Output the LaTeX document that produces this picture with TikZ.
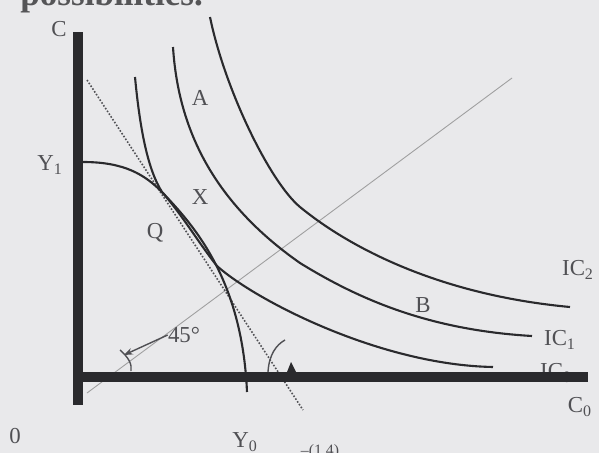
\documentclass[tikz,border=0pt]{standalone}
\usepackage{fontspec}
\setmainfont{Liberation Serif}
\usetikzlibrary{arrows.meta}
\definecolor{paper}{RGB}{233,233,235}
\definecolor{ink}{RGB}{42,42,45}
\definecolor{pencil}{RGB}{80,80,84}
\tikzset{
  axis/.style={line width=6.2pt,color=ink},
  curve/.style={line width=1.2pt,color=ink},
  lbl/.style={text=pencil,font=\fontsize{13}{15}\selectfont,inner sep=0pt},
}
\begin{document}
\begin{tikzpicture}[x=0.02cm,y=-0.02cm]
\fill[paper] (0,0) rectangle (599,453);
\useasboundingbox (0,0) rectangle (599,453);
\clip (0,0) rectangle (599,453);
\node[lbl,text=ink!80,font=\fontsize{20}{24}\selectfont\bfseries,anchor=base west] (head) at (20,6) {possibilities.};

\draw[color=gray!75,line width=0.5pt] (87,393) -- (512,78);
\draw[pencil,densely dotted,line width=0.9pt] (87,80) -- (303,410);

\draw[curve] (83,162) .. controls (125,162) and (145,175) .. (162,192)
  .. controls (190,222) and (242,275) .. (247,392);
\draw[curve] (135,77) .. controls (140,130) and (148,170) .. (162,192)
  .. controls (183,216) and (198,242) .. (217,266)
  .. controls (255,300) and (380,365) .. (493,367);
\draw[curve] (173,47) .. controls (178,125) and (210,200) .. (300,263)
  .. controls (360,300) and (430,330) .. (532,336);
\draw[curve] (210,17) .. controls (225,90) and (270,182) .. (300,207)
  .. controls (350,248) and (440,295) .. (570,307);

\node[lbl] (ic0) at (556,373) {IC\textsubscript{0}};
\draw[axis] (78,32) -- (78,405);
\draw[axis] (73,377) -- (588,377);

\node[lbl] (c) at (59,29) {C};
\node[lbl] (y1) at (50,165) {Y\textsubscript{1}};
\node[lbl] (a) at (200,98) {A};
\node[lbl] (x) at (200,197) {X};
\node[lbl] (q) at (155,233) {Q};
\node[lbl] (b) at (423,305) {B};
\node[lbl] (ic2) at (578,270) {IC\textsubscript{2}};
\node[lbl] (ic1) at (560,340) {IC\textsubscript{1}};
\node[lbl] (c0) at (580,407) {C\textsubscript{0}};
\node[lbl] (o) at (15,436) {0};
\node[lbl] (y0) at (245,442) {Y\textsubscript{0}};
\node[lbl] (deg) at (184,335) {45°};
\node[lbl,font=\fontsize{9}{10}\selectfont] (fig) at (320,452) {–(1.4)};

\coordinate (ang) at (124,355);
\draw[pencil,thick,-{Stealth[length=5pt]}] (deg.west) -- (ang);
\draw[pencil,thick] (131,371) .. controls (132,364) and (129,358) .. (120,350);
\draw[pencil,thick] (268,372) .. controls (269,355) and (276,345) .. (285,340);
\fill[ink] (287,372) -- (291,362) -- (296,372) -- cycle;
\end{tikzpicture}
\end{document}
